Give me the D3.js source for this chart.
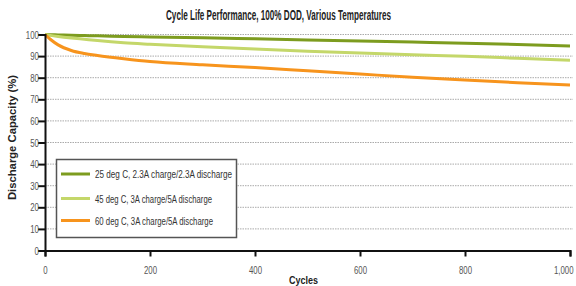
<!DOCTYPE html>
<html>
<head>
<meta charset="utf-8">
<script src="https://cdn.jsdelivr.net/npm/d3@7"></script>
<style>
  body { margin: 0; background: #fff; }
  text { font-family: "Liberation Sans", Arial, sans-serif; }
</style>
</head>
<body>
<div id="content"></div>
<script>
const w = 576
const h = 286

// data
const cycles = [0, 10, 25, 50, 75, 100, 150, 200, 300, 400, 500, 600, 700, 800, 900, 1000]
const cap25 = [100, 99.9, 99.8, 99.6, 99.5, 99.4, 99.1, 98.9, 98.5, 98.0, 97.5, 97.0, 96.5, 96.0, 95.4, 94.7]
const cap45 = [100, 99.6, 99.1, 98.4, 97.8, 97.2, 96.2, 95.5, 94.3, 93.3, 92.3, 91.4, 90.6, 89.9, 89.0, 88.1]
const cap60 = [100, 97.8, 95.2, 92.6, 91.2, 90.3, 88.8, 87.5, 86.0, 84.7, 83.2, 81.7, 80.2, 78.9, 77.7, 76.6]
const seriesNames = ["25 deg C, 2.3A charge/2.3A discharge", "45 deg C, 3A charge/5A discharge", "60 deg C, 3A charge/5A discharge"]
const seriesColors = ["#7d9c1f", "#c4d76a", "#f7941d"]
const yTicks = [0, 10, 20, 30, 40, 50, 60, 70, 80, 90, 100]
const xTicks = [0, 200, 400, 600, 800, 1000]

const series = [cap25, cap45, cap60]

let svg = d3.select("#content")
            .append("svg")
            .attr("width", w)
            .attr("height", h)

let x = d3.scaleLinear().domain([0, 1000]).range([45, 570])
let y = d3.scaleLinear().domain([0, 100]).range([250.5, 34.5])

// squeeze text to a given width (the original uses a condensed face)
function fit(sel, width) {
  sel.attr("textLength", width).attr("lengthAdjust", "spacingAndGlyphs")
}

// grid
svg.append("g")
  .selectAll("line")
  .data(yTicks.filter(d => d > 0))
  .enter()
  .append("line")
    .attr("x1", 45)
    .attr("x2", 573)
    .attr("y1", d => y(d))
    .attr("y2", d => y(d))
    .attr("stroke", "#aaa")
    .attr("stroke-width", 1)
    .attr("stroke-dasharray", "1.5,1")

// title
svg.append("text")
  .attr("x", 278.5)
  .attr("y", 20)
  .attr("text-anchor", "middle")
  .attr("font-size", 14)
  .attr("font-weight", "bold")
  .attr("fill", "#222")
  .text("Cycle Life Performance, 100% DOD, Various Temperatures")
  .call(fit, 225)

// lines
let line = d3.line()
  .x((d, i) => x(cycles[i]))
  .y(d => y(d))
  .curve(d3.curveMonotoneX)

svg.selectAll("path.series")
  .data(series)
  .enter()
  .append("path")
    .attr("class", "series")
    .attr("d", d => line(d))
    .attr("fill", "none")
    .attr("stroke", (d, i) => seriesColors[i])
    .attr("stroke-width", 3)

// axes
let yAxis = svg.append("g")
  .attr("transform", "translate(45,0)")
  .call(d3.axisLeft(y).tickValues(yTicks).tickSize(7).tickPadding(2))
let xAxis = svg.append("g")
  .attr("transform", "translate(0," + y(0) + ")")
  .call(d3.axisBottom(x).tickValues(xTicks).tickSize(6).tickPadding(9).tickFormat(d3.format(",")))

for (let ax of [yAxis, xAxis]) {
  ax.select(".domain").attr("stroke", "#111").attr("stroke-width", 2)
  ax.selectAll(".tick line").attr("stroke", "#111").attr("stroke-width", 2)
  ax.selectAll(".tick text")
    .attr("fill", "#555")
    .attr("font-size", 11.5)
    .attr("transform", "scale(0.68,1)")
    .style("font-family", "\"Liberation Sans\", Arial, sans-serif")
}
xAxis.selectAll(".tick text").filter(d => d === 1000)
  .attr("text-anchor", "end")
  .attr("x", 4.5)

// axis titles
svg.append("text")
  .attr("transform", "translate(16,137.5) rotate(-90)")
  .attr("text-anchor", "middle")
  .attr("font-size", 11)
  .attr("font-weight", "bold")
  .attr("fill", "#222")
  .text("Discharge Capacity (%)")
  .call(fit, 125)

svg.append("text")
  .attr("x", 303.5)
  .attr("y", 284)
  .attr("text-anchor", "middle")
  .attr("font-size", 11.5)
  .attr("font-weight", "bold")
  .attr("fill", "#222")
  .text("Cycles")
  .call(fit, 29)

// legend
let legend = svg.append("g")
legend.append("rect")
  .attr("x", 56.5)
  .attr("y", 159.5)
  .attr("width", 180)
  .attr("height", 78)
  .attr("fill", "#fff")
  .attr("stroke", "#555")
  .attr("stroke-width", 1.5)

const legendWidths = [137, 117, 118]
let rows = legend.selectAll("g.row")
  .data(seriesNames)
  .enter()
  .append("g")
    .attr("class", "row")
    .attr("transform", (d, i) => "translate(0," + [174, 198.5, 220.5][i] + ")")
rows.append("line")
  .attr("x1", 61).attr("x2", 90)
  .attr("stroke", (d, i) => seriesColors[i])
  .attr("stroke-width", 3)
rows.append("text")
  .attr("x", 95)
  .attr("y", 4)
  .attr("font-size", 11.5)
  .attr("fill", "#333")
  .attr("textLength", (d, i) => legendWidths[i])
  .attr("lengthAdjust", "spacingAndGlyphs")
  .text(d => d)
</script>
</body>
</html>
